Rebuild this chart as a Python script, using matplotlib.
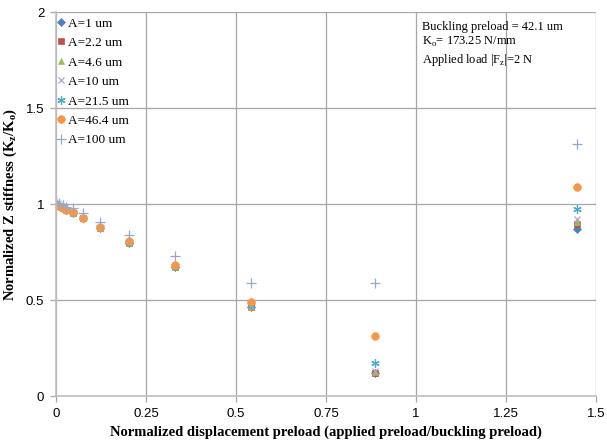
import matplotlib
matplotlib.use("Agg")
import matplotlib.pyplot as plt

x = [0.0, 0.009, 0.019, 0.028, 0.047, 0.076, 0.122, 0.203, 0.33, 0.54, 0.886, 1.446]

labels = ["A=1 um", "A=2.2 um", "A=4.6 um", "A=10 um", "A=21.5 um", "A=46.4 um", "A=100 um"]

y_a1 = [1.0, 0.99, 0.98, 0.97, 0.955, 0.925, 0.876, 0.799, 0.673, 0.465, 0.121, 0.870]
y_a2 = [1.0, 0.99, 0.98, 0.97, 0.955, 0.925, 0.876, 0.799, 0.673, 0.465, 0.121, 0.894]
y_a4 = [1.0, 0.99, 0.98, 0.97, 0.955, 0.925, 0.876, 0.799, 0.674, 0.466, 0.123, 0.908]
y_a10 = [1.0, 0.99, 0.98, 0.97, 0.955, 0.925, 0.877, 0.800, 0.675, 0.468, 0.128, 0.920]
y_a21 = [1.004, 0.993, 0.983, 0.973, 0.958, 0.928, 0.879, 0.802, 0.678, 0.473, 0.172, 0.974]
y_a46 = [1.0, 0.99, 0.981, 0.971, 0.957, 0.928, 0.880, 0.805, 0.683, 0.488, 0.314, 1.087]
y_a100 = [1.017, 1.005, 0.995, 0.985, 0.979, 0.951, 0.908, 0.840, 0.729, 0.587, 0.587, 1.311]

series = [y_a1, y_a2, y_a4, y_a10, y_a21, y_a46, y_a100]

styles = [
    dict(marker="D", color="#4F81BD", ms=3.6),
    dict(marker="s", color="#C0504D", ms=4.5),
    dict(marker="^", color="#9BBB59", ms=5.0),
    dict(marker="x", color="#B3A2C7", ms=5.0),
    dict(marker=(6, 2, 0), color="#4BACC6", ms=6.0),
    dict(marker="o", color="#F79646", ms=5.5),
    dict(marker="+", color="#95A9D0", ms=6.5),
]

fig = plt.figure(figsize=(6.07, 4.45), dpi=100)
ax = fig.add_axes([0.0923, 0.110, 0.890, 0.863])

for ys, lab, st in zip(series, labels, styles):
    ax.plot(x, ys, linestyle="none", marker=st["marker"], color=st["color"],
            markersize=st["ms"],
            markeredgewidth=0.9 if st["marker"] in ("x", "+", (6, 2, 0)) else 0.5,
            label=lab)

ax.set_xlim(0, 1.5)
ax.set_ylim(0, 2)
ax.set_xticks([0, 0.25, 0.5, 0.75, 1, 1.25, 1.5])
ax.set_xticklabels(["0", "0.25", "0.5", "0.75", "1", "1.25", "1.5"])
ax.set_yticks([0, 0.5, 1, 1.5, 2])
ax.set_yticklabels(["0", "0.5", "1", "1.5", "2"])
ax.grid(True, color="#A6A6A6", linewidth=0.9)
ax.set_axisbelow(True)
for s in ["top", "right"]:
    ax.spines[s].set_visible(False)
for s in ["left", "bottom"]:
    ax.spines[s].set_color("#BFBFBF")
    ax.spines[s].set_linewidth(1.2)
ax.tick_params(axis="both", colors="#A6A6A6", length=4, width=0.9, direction="out",
               labelcolor="black", labelsize=9.5, pad=4.5)
for t in ax.get_xticklabels() + ax.get_yticklabels():
    t.set_family("Liberation Sans")

ax.set_xlabel("Normalized displacement preload (applied preload/buckling preload)",
              family="Liberation Serif", fontweight="bold", fontsize=10.5, labelpad=4)
ax.set_ylabel(r"Normalized Z stiffness (K$_\mathregular{z}$/K$_\mathregular{o}$)",
              family="Liberation Serif", fontweight="bold", fontsize=10.5, labelpad=5)

leg = ax.legend(loc="upper left", frameon=False, prop={"family": "Liberation Serif", "size": 9.5},
                handletextpad=0.0, handlelength=1.0, labelspacing=0.55,
                borderaxespad=0.0, bbox_to_anchor=(-0.012, 1.0))

ax.text(0.677, 0.976,
        "Buckling preload = 42.1 um\n"
        r"K$_\mathregular{o}$= 173.25 N/mm" "\n"
        r"Applied load |F$_\mathregular{z}$|=2 N",
        transform=ax.transAxes, va="top", ha="left",
        family="Liberation Serif", fontsize=9, linespacing=1.2)

fig.savefig("out.png", dpi=100)
